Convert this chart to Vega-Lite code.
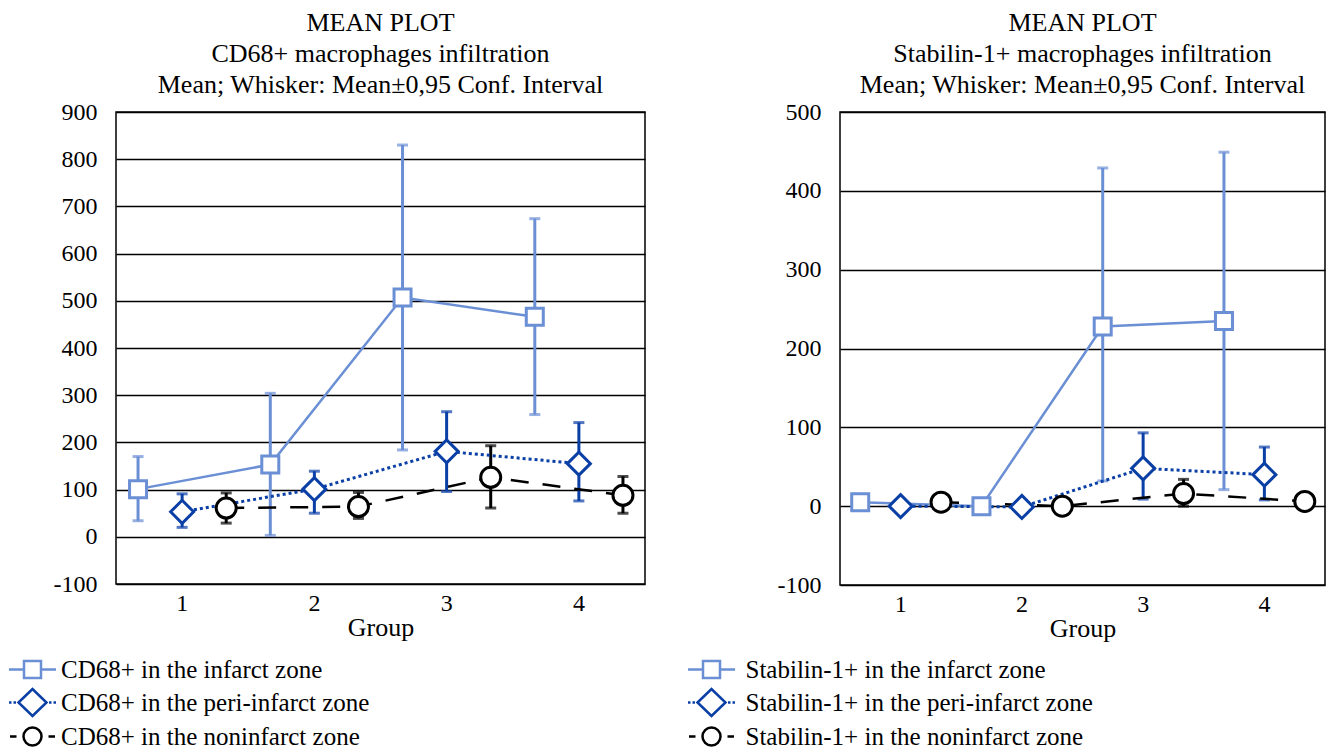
{
  "$schema": "https://vega.github.io/schema/vega-lite/v6.json",
  "background": "white",
  "padding": {"left": 19, "top": 9, "right": 0, "bottom": 0},
  "bounds": "flush",
  "spacing": 195,
  "config": {
    "font": "Liberation Serif",
    "view": {"stroke": "black", "strokeWidth": 1.5},
    "title": {"font": "Liberation Serif", "fontSize": 26, "fontWeight": "normal", "color": "black", "lineHeight": 31, "frame": "group", "anchor": "middle", "offset": 2},
    "axis": {"labelFont": "Liberation Serif", "labelColor": "black", "titleFont": "Liberation Serif", "titleColor": "black", "titleFontWeight": "normal"},
    "axisY": {"grid": true, "gridColor": "black", "gridWidth": 1.5, "gridOpacity": 1, "ticks": false, "domain": false, "labelFontSize": 24, "labelPadding": 19, "labelExpr": "'' + datum.value"},
    "axisX": {"grid": false, "labelAngle": 0, "domain": false, "ticks": false, "labelFontSize": 24, "labelPadding": 7, "titleFontSize": 26, "titlePadding": -1},
    "legend": {"orient": "none", "direction": "vertical", "title": null, "padding": 0, "labelFont": "Liberation Serif", "labelFontSize": 25, "labelColor": "black", "symbolSize": 400, "symbolStrokeWidth": 2.5, "symbolOpacity": 1, "symbolFillColor": "transparent", "rowPadding": 1, "labelLimit": 500}
  },
  "hconcat": [
    {
      "width": 529,
      "height": 472,
      "title": {"text": ["MEAN PLOT", "CD68+ macrophages infiltration", "Mean; Whisker: Mean±0,95 Conf. Interval"]},
      "data": {"values": [
        {"series": "CD68+ in the infarct zone", "group": 1, "mean": 101, "lo": 34, "hi": 170},
        {"series": "CD68+ in the infarct zone", "group": 2, "mean": 153, "lo": 3, "hi": 304},
        {"series": "CD68+ in the infarct zone", "group": 3, "mean": 507, "lo": 184, "hi": 830},
        {"series": "CD68+ in the infarct zone", "group": 4, "mean": 466, "lo": 259, "hi": 674},
        {"series": "CD68+ in the peri-infarct zone", "group": 1, "mean": 53, "lo": 20, "hi": 91},
        {"series": "CD68+ in the peri-infarct zone", "group": 2, "mean": 101, "lo": 50, "hi": 139},
        {"series": "CD68+ in the peri-infarct zone", "group": 3, "mean": 181, "lo": 96, "hi": 265},
        {"series": "CD68+ in the peri-infarct zone", "group": 4, "mean": 155, "lo": 76, "hi": 242},
        {"series": "CD68+ in the noninfarct zone", "group": 1, "mean": 61, "lo": 29, "hi": 93},
        {"series": "CD68+ in the noninfarct zone", "group": 2, "mean": 64, "lo": 39, "hi": 94},
        {"series": "CD68+ in the noninfarct zone", "group": 3, "mean": 126, "lo": 61, "hi": 193},
        {"series": "CD68+ in the noninfarct zone", "group": 4, "mean": 88, "lo": 50, "hi": 128}
      ]},
      "encoding": {
        "x": {"field": "group", "type": "ordinal", "scale": {"type": "band", "paddingInner": 0, "paddingOuter": 0}, "axis": {"title": "Group"}},
        "xOffset": {"field": "series", "type": "nominal", "scale": {"domain": ["CD68+ in the infarct zone", "CD68+ in the peri-infarct zone", "CD68+ in the noninfarct zone"], "paddingInner": 0, "paddingOuter": 0}}
      },
      "layer": [
        {
          "transform": [{"filter": "false"}],
          "mark": {"type": "point", "filled": false, "size": 400, "strokeWidth": 2.5, "opacity": 1},
          "encoding": {
            "y": {"field": "mean", "type": "quantitative", "title": null, "scale": {"domain": [-100, 900]}, "axis": {"values": [-100, 0, 100, 200, 300, 400, 500, 600, 700, 800, 900]}},
            "color": {"field": "series", "type": "nominal", "scale": {"domain": ["CD68+ in the infarct zone", "CD68+ in the peri-infarct zone", "CD68+ in the noninfarct zone"], "range": ["#6b8fd4", "#0a3fa6", "#000000"]}, "legend": {"legendX": -96, "legendY": 545, "labelOffset": 16}},
            "shape": {"field": "series", "type": "nominal", "scale": {"domain": ["CD68+ in the infarct zone", "CD68+ in the peri-infarct zone", "CD68+ in the noninfarct zone"], "range": ["M-2.35,0H-0.85M0.85,0H2.35M-0.85,-0.85H0.85V0.85H-0.85Z", "M-2.35,0H-2.1M-1.9,0H-1.65M1.65,0H1.9M2.1,0H2.35M-1.4,0L0,-1.35L1.4,0L0,1.35Z", "M-2.25,0H-1.6M1.6,0H2.25M-0.9,0A0.9,0.9 0 1,0 0.9,0A0.9,0.9 0 1,0 -0.9,0Z"]}, "legend": {"legendX": -96, "legendY": 545, "labelOffset": 16}}
          }
        },
        {"transform": [{"filter": "datum.series === 'CD68+ in the infarct zone'"}], "mark": {"type": "errorbar", "ticks": true, "size": 11, "thickness": 3, "color": "#6b8fd4"}, "encoding": {"y": {"field": "lo", "type": "quantitative", "title": null}, "y2": {"field": "hi"}}},
        {"transform": [{"filter": "datum.series === 'CD68+ in the peri-infarct zone'"}], "mark": {"type": "errorbar", "ticks": true, "size": 11, "thickness": 3, "color": "#0a3fa6"}, "encoding": {"y": {"field": "lo", "type": "quantitative", "title": null}, "y2": {"field": "hi"}}},
        {"transform": [{"filter": "datum.series === 'CD68+ in the noninfarct zone'"}], "mark": {"type": "errorbar", "ticks": true, "size": 11, "thickness": 3, "color": "#000000"}, "encoding": {"y": {"field": "lo", "type": "quantitative", "title": null}, "y2": {"field": "hi"}}},
        {"transform": [{"filter": "datum.series === 'CD68+ in the infarct zone'"}], "mark": {"type": "line", "color": "#6b8fd4", "strokeWidth": 2.5}, "encoding": {"y": {"field": "mean", "type": "quantitative", "title": null}}},
        {"transform": [{"filter": "datum.series === 'CD68+ in the peri-infarct zone'"}], "mark": {"type": "line", "color": "#0a3fa6", "strokeWidth": 3, "strokeDash": [3, 3]}, "encoding": {"y": {"field": "mean", "type": "quantitative", "title": null}}},
        {"transform": [{"filter": "datum.series === 'CD68+ in the noninfarct zone'"}], "mark": {"type": "line", "color": "#000000", "strokeWidth": 2.5, "strokeDash": [18, 14]}, "encoding": {"y": {"field": "mean", "type": "quantitative", "title": null}}},
        {"transform": [{"filter": "datum.series === 'CD68+ in the infarct zone'"}], "mark": {"type": "point", "shape": "square", "size": 289, "filled": false, "fill": "white", "color": "#6b8fd4", "strokeWidth": 3, "opacity": 1}, "encoding": {"y": {"field": "mean", "type": "quantitative", "title": null}}},
        {"transform": [{"filter": "datum.series === 'CD68+ in the peri-infarct zone'"}], "mark": {"type": "point", "shape": "diamond", "size": 529, "filled": false, "fill": "white", "color": "#0a3fa6", "strokeWidth": 3, "opacity": 1}, "encoding": {"y": {"field": "mean", "type": "quantitative", "title": null}}},
        {"transform": [{"filter": "datum.series === 'CD68+ in the noninfarct zone'"}], "mark": {"type": "point", "shape": "circle", "size": 400, "filled": false, "fill": "white", "color": "#000000", "strokeWidth": 3, "opacity": 1}, "encoding": {"y": {"field": "mean", "type": "quantitative", "title": null}}}
      ]
    },
    {
      "width": 485,
      "height": 473,
      "title": {"text": ["MEAN PLOT", "Stabilin-1+ macrophages infiltration", "Mean; Whisker: Mean±0,95 Conf. Interval"]},
      "data": {"values": [
        {"series": "Stabilin-1+ in the infarct zone", "group": 1, "mean": 5, "lo": 3, "hi": 7},
        {"series": "Stabilin-1+ in the infarct zone", "group": 2, "mean": 0, "lo": -2, "hi": 2},
        {"series": "Stabilin-1+ in the infarct zone", "group": 3, "mean": 228, "lo": 32, "hi": 429},
        {"series": "Stabilin-1+ in the infarct zone", "group": 4, "mean": 235, "lo": 21, "hi": 449},
        {"series": "Stabilin-1+ in the peri-infarct zone", "group": 1, "mean": 0, "lo": -2, "hi": 2},
        {"series": "Stabilin-1+ in the peri-infarct zone", "group": 2, "mean": -1, "lo": -3, "hi": 1},
        {"series": "Stabilin-1+ in the peri-infarct zone", "group": 3, "mean": 48, "lo": 9, "hi": 93},
        {"series": "Stabilin-1+ in the peri-infarct zone", "group": 4, "mean": 40, "lo": 8, "hi": 75},
        {"series": "Stabilin-1+ in the noninfarct zone", "group": 1, "mean": 5, "lo": 3, "hi": 7},
        {"series": "Stabilin-1+ in the noninfarct zone", "group": 2, "mean": 0, "lo": -2, "hi": 2},
        {"series": "Stabilin-1+ in the noninfarct zone", "group": 3, "mean": 16, "lo": 0, "hi": 34},
        {"series": "Stabilin-1+ in the noninfarct zone", "group": 4, "mean": 6, "lo": 4, "hi": 8}
      ]},
      "encoding": {
        "x": {"field": "group", "type": "ordinal", "scale": {"type": "band", "paddingInner": 0, "paddingOuter": 0}, "axis": {"title": "Group"}},
        "xOffset": {"field": "series", "type": "nominal", "scale": {"domain": ["Stabilin-1+ in the infarct zone", "Stabilin-1+ in the peri-infarct zone", "Stabilin-1+ in the noninfarct zone"], "paddingInner": 0, "paddingOuter": 0}}
      },
      "layer": [
        {
          "transform": [{"filter": "false"}],
          "mark": {"type": "point", "filled": false, "size": 400, "strokeWidth": 2.5, "opacity": 1},
          "encoding": {
            "y": {"field": "mean", "type": "quantitative", "title": null, "scale": {"domain": [-100, 500]}, "axis": {"values": [-100, 0, 100, 200, 300, 400, 500]}},
            "color": {"field": "series", "type": "nominal", "scale": {"domain": ["Stabilin-1+ in the infarct zone", "Stabilin-1+ in the peri-infarct zone", "Stabilin-1+ in the noninfarct zone"], "range": ["#6b8fd4", "#0a3fa6", "#000000"]}, "legend": {"legendX": -141, "legendY": 545, "labelOffset": 21.5}},
            "shape": {"field": "series", "type": "nominal", "scale": {"domain": ["Stabilin-1+ in the infarct zone", "Stabilin-1+ in the peri-infarct zone", "Stabilin-1+ in the noninfarct zone"], "range": ["M-2.35,0H-0.85M0.85,0H2.35M-0.85,-0.85H0.85V0.85H-0.85Z", "M-2.35,0H-2.1M-1.9,0H-1.65M1.65,0H1.9M2.1,0H2.35M-1.4,0L0,-1.35L1.4,0L0,1.35Z", "M-2.25,0H-1.6M1.6,0H2.25M-0.9,0A0.9,0.9 0 1,0 0.9,0A0.9,0.9 0 1,0 -0.9,0Z"]}, "legend": {"legendX": -141, "legendY": 545, "labelOffset": 21.5}}
          }
        },
        {"transform": [{"filter": "datum.series === 'Stabilin-1+ in the infarct zone'"}], "mark": {"type": "errorbar", "ticks": true, "size": 11, "thickness": 3, "color": "#6b8fd4"}, "encoding": {"y": {"field": "lo", "type": "quantitative", "title": null}, "y2": {"field": "hi"}}},
        {"transform": [{"filter": "datum.series === 'Stabilin-1+ in the peri-infarct zone'"}], "mark": {"type": "errorbar", "ticks": true, "size": 11, "thickness": 3, "color": "#0a3fa6"}, "encoding": {"y": {"field": "lo", "type": "quantitative", "title": null}, "y2": {"field": "hi"}}},
        {"transform": [{"filter": "datum.series === 'Stabilin-1+ in the noninfarct zone'"}], "mark": {"type": "errorbar", "ticks": true, "size": 11, "thickness": 3, "color": "#000000"}, "encoding": {"y": {"field": "lo", "type": "quantitative", "title": null}, "y2": {"field": "hi"}}},
        {"transform": [{"filter": "datum.series === 'Stabilin-1+ in the infarct zone'"}], "mark": {"type": "line", "color": "#6b8fd4", "strokeWidth": 2.5}, "encoding": {"y": {"field": "mean", "type": "quantitative", "title": null}}},
        {"transform": [{"filter": "datum.series === 'Stabilin-1+ in the peri-infarct zone'"}], "mark": {"type": "line", "color": "#0a3fa6", "strokeWidth": 3, "strokeDash": [3, 3]}, "encoding": {"y": {"field": "mean", "type": "quantitative", "title": null}}},
        {"transform": [{"filter": "datum.series === 'Stabilin-1+ in the noninfarct zone'"}], "mark": {"type": "line", "color": "#000000", "strokeWidth": 2.5, "strokeDash": [18, 14]}, "encoding": {"y": {"field": "mean", "type": "quantitative", "title": null}}},
        {"transform": [{"filter": "datum.series === 'Stabilin-1+ in the infarct zone'"}], "mark": {"type": "point", "shape": "square", "size": 289, "filled": false, "fill": "white", "color": "#6b8fd4", "strokeWidth": 3, "opacity": 1}, "encoding": {"y": {"field": "mean", "type": "quantitative", "title": null}}},
        {"transform": [{"filter": "datum.series === 'Stabilin-1+ in the peri-infarct zone'"}], "mark": {"type": "point", "shape": "diamond", "size": 529, "filled": false, "fill": "white", "color": "#0a3fa6", "strokeWidth": 3, "opacity": 1}, "encoding": {"y": {"field": "mean", "type": "quantitative", "title": null}}},
        {"transform": [{"filter": "datum.series === 'Stabilin-1+ in the noninfarct zone'"}], "mark": {"type": "point", "shape": "circle", "size": 400, "filled": false, "fill": "white", "color": "#000000", "strokeWidth": 3, "opacity": 1}, "encoding": {"y": {"field": "mean", "type": "quantitative", "title": null}}}
      ]
    }
  ],
  "resolve": {"scale": {"color": "independent", "xOffset": "independent", "shape": "independent", "y": "independent", "x": "independent"}, "legend": {"color": "independent", "shape": "independent"}}
}
